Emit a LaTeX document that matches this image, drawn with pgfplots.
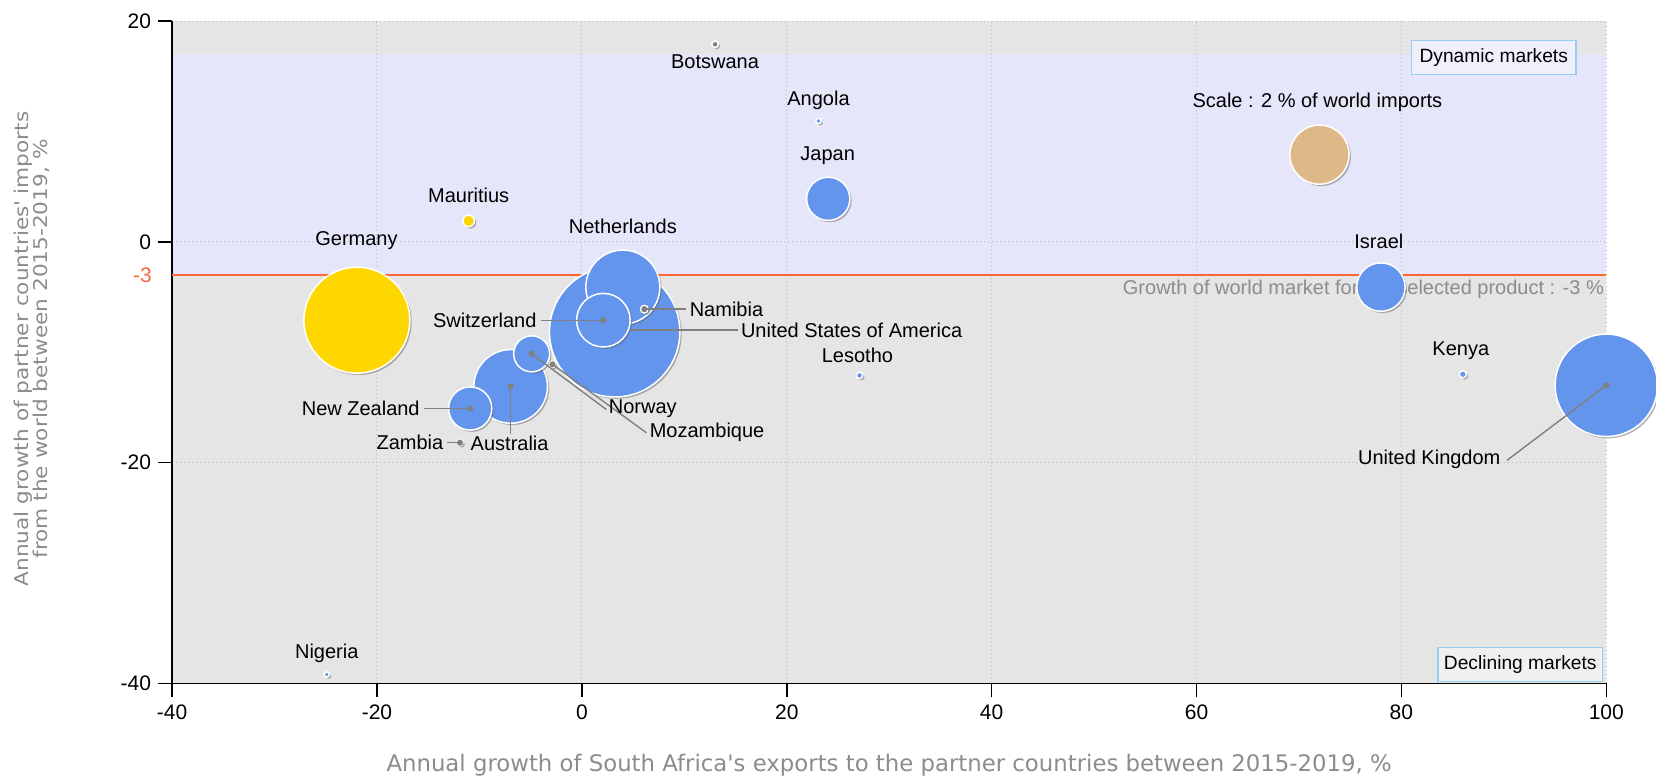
\documentclass[border=0pt]{standalone}
\usepackage{fontspec}
\setmainfont{Liberation Sans}
\newfontfamily\dejavu{DejaVu Sans}
\newfontfamily\dejavuwide[FakeStretch=1.14]{DejaVu Sans}
\usepackage{pgfplots}
\pgfplotsset{compat=1.18}
\usepackage{pgfplotstable}

\definecolor{cblue}{RGB}{100,149,237}
\definecolor{cgold}{RGB}{255,215,0}
\definecolor{ctan}{RGB}{222,184,135}
\definecolor{cdot}{RGB}{128,128,128}
\definecolor{bggray}{RGB}{229,229,229}
\definecolor{lav}{RGB}{230,230,250}
\definecolor{redline}{RGB}{255,102,51}
\definecolor{tickred}{RGB}{255,99,71}
\definecolor{labgray}{RGB}{140,140,140}
\definecolor{boxblue}{RGB}{150,205,245}
\definecolor{shadowc}{RGB}{90,90,90}

% bubble with a small drop shadow
\pgfdeclareplotmark{bub}{%
  \begin{pgfscope}
    \pgfsetfillcolor{shadowc}\pgfsetfillopacity{0.45}
    \pgfpathcircle{\pgfpoint{0.9pt}{-0.9pt}}{\pgfplotmarksize}
    \pgfusepath{fill}
  \end{pgfscope}
  \pgfpathcircle{\pgfpointorigin}{\pgfplotmarksize}
  \pgfusepathqfillstroke
}

% x = export growth, y = import growth, r = bubble radius (pt)
\pgfplotstableread{
name x y r
USA 3.2 -8.15 32.6
UnitedKingdom 100 -13.0 25.6
Netherlands 4.0 -4.1 18.5
Australia -6.95 -13.1 18.4
Switzerland 2.1 -7.1 13.4
Israel 78.0 -4.1 12.1
Japan 24.05 3.9 10.8
NewZealand -10.9 -15.1 10.8
Norway -4.9 -10.15 9.0
Namibia 6.1 -6.1 1.9
Mozambique -2.87 -11.1 1.6
Zambia -11.9 -18.2 1.5
Lesotho 27.1 -12.1 1.6
Kenya 86.0 -12.0 1.8
Angola 23.1 10.95 1.3
Nigeria -24.9 -39.2 1.3
}\bluetab

\pgfplotstableread{
name x y r
Germany -21.96 -7.1 26.5
Mauritius -11.05 1.9 2.9
}\goldtab

\pgfplotstableread{
name x y r
Scale 72.0 7.9 14.8
}\scaletab

\pgfplotstableread{
name x y r
Botswana 13.0 17.9 1.6
}\graytab

\pgfplotsset{
  bubble/.style={scatter, only marks, mark=bub,
    mark options={line width=0.75pt},
    scatter/use mapped color={draw=white, fill=#1},
    visualization depends on={\thisrow{r} \as \rad},
    scatter/@pre marker code/.append style={/tikz/mark size=\rad}},
  lead/.style={cdot, line width=0.7pt, no marks, forget plot},
}
\tikzset{
  lab/.style={font=\fontsize{10}{12}\selectfont, inner sep=1pt, text=black},
  mbox/.style={draw=boxblue, line width=0.7pt, font=\fontsize{9.6}{11}\selectfont,
    inner xsep=4pt, text height=7pt, text depth=2pt, inner ysep=4pt},
}

\begin{document}
\begin{tikzpicture}
\begin{axis}[
  set layers,
  scale only axis, width=717.1pt, height=331.1pt,
  at={(0pt,0pt)}, anchor=south west,
  xmin=-40, xmax=100, ymin=-40, ymax=20,
  axis x line*=bottom, axis y line*=left,
  axis line style={black, line width=0.8pt},
  xtick={-40,-20,0,20,40,60,80,100},
  xticklabels={-40,-20,0,20,40,60,80,100},
  ytick={-40,-20,0,20},
  yticklabels={-40,-20,0,20},
  tick align=outside, major tick length=7pt,
  tick style={black, line width=0.8pt},
  ticklabel style={font=\fontsize{10.5}{12}\selectfont},
  grid=major,
  grid style={gray!55, line width=0.5pt, dash pattern=on 0.6pt off 1.4pt},
  xlabel={Annual growth of South Africa\textquotesingle s exports to the partner countries between 2015-2019, \%},
  ylabel={Annual growth of partner countries\textquotesingle\ imports\\from the world between 2015-2019, \%},
  xlabel style={at={(axis description cs:0.5,-0.1244)}, anchor=center,
    font=\dejavu\fontsize{11.4}{13}\selectfont, text=labgray},
  ylabel style={at={(axis description cs:-0.0976,0.505)}, anchor=center, align=center,
    font=\dejavuwide\fontsize{9.5}{9.6}\selectfont, text=labgray},
  clip=false, clip mode=individual,
]
\begin{pgfonlayer}{axis background}
  \fill[bggray] (axis cs:-40,-40) rectangle (axis cs:100,20);
  \fill[lav] (axis cs:-40,-3) rectangle (axis cs:100,17);
\end{pgfonlayer}

% world market growth line
\addplot[redline, line width=1.1pt, no marks, forget plot] coordinates {(-40,-3) (100,-3)};
\node[anchor=east, xshift=-10pt, inner sep=0pt, text=tickred, font=\fontsize{10.5}{12}\selectfont] at (axis cs:-40,-3) {-3};
\node[anchor=east, inner sep=0pt, text=labgray, font=\fontsize{10}{12}\selectfont] at (axis cs:99.8,-4.3)
  {Growth of world market for the selected product : -3 \%};

% bubbles
\addplot[bubble=cgold] table[x=x, y=y] {\goldtab};
\addplot[bubble=cblue] table[x=x, y=y] {\bluetab};
\addplot[bubble=ctan] table[x=x, y=y] {\scaletab};
\addplot[bubble=cdot] table[x=x, y=y] {\graytab};

% leader lines
\addplot[lead] coordinates {(-4.0,-7.1) (2.1,-7.1)};
\addplot[lead] coordinates {(6.1,-6.1) (10.2,-6.1)};
\addplot[lead] coordinates {(4.75,-8.0) (15.2,-8.0)};
\addplot[lead] coordinates {(-4.9,-10.15) (2.4,-15.2)};
\addplot[lead] coordinates {(-2.87,-11.1) (6.3,-17.3)};
\addplot[lead] coordinates {(-6.95,-13.1) (-6.95,-17.4)};
\addplot[lead] coordinates {(-15.4,-15.1) (-10.9,-15.1)};
\addplot[lead] coordinates {(-13.2,-18.2) (-11.9,-18.2)};
\addplot[lead] coordinates {(90.3,-19.8) (100,-13.0)};

% centre dots of the labelled bubbles
\addplot[only marks, mark=*, mark size=1.3pt, mark options={fill=cdot, draw=cdot}] coordinates {
  (2.1,-7.1) (6.1,-6.1) (-4.9,-10.15) (-2.87,-11.1) (-6.95,-13.1)
  (-10.9,-15.1) (-11.9,-18.2) (100,-13.0)
};

% country labels
\node[lab] at (axis cs:13.0,16.3) {Botswana};
\node[lab] at (axis cs:23.1,12.85) {Angola};
\node[lab] at (axis cs:24.0,7.8) {Japan};
\node[lab] at (axis cs:-11.05,4.2) {Mauritius};
\node[lab] at (axis cs:-22.0,0.1) {Germany};
\node[lab] at (axis cs:4.0,1.4) {Netherlands};
\node[lab] at (axis cs:77.8,0.0) {Israel};
\node[lab] at (axis cs:85.8,-9.9) {Kenya};
\node[lab] at (axis cs:26.9,-10.3) {Lesotho};
\node[lab] at (axis cs:-24.9,-37.3) {Nigeria};
\node[lab] at (axis cs:71.8,12.6) {Scale : 2 \% of world imports};
\node[lab, anchor=east] at (axis cs:-4.2,-7.1) {Switzerland};
\node[lab, anchor=west] at (axis cs:10.3,-6.1) {Namibia};
\node[lab, anchor=west] at (axis cs:15.3,-8.0) {United States of America};
\node[lab, anchor=west] at (axis cs:2.4,-15.1) {Norway};
\node[lab, anchor=west] at (axis cs:6.4,-17.3) {Mozambique};
\node[lab] at (axis cs:-7.05,-18.3) {Australia};
\node[lab, anchor=east] at (axis cs:-15.6,-15.1) {New Zealand};
\node[lab, anchor=east] at (axis cs:-13.3,-18.2) {Zambia};
\node[lab, anchor=east] at (axis cs:89.9,-19.7) {United Kingdom};

% quadrant boxes
\node[mbox, fill=lav!60!white, anchor=north east] at (axis cs:97.1,18.3) {Dynamic markets};
\node[mbox, fill=gray!12!white, inner xsep=3pt, anchor=south east] at (axis cs:99.7,-39.9) {Declining markets};
\end{axis}
\pgfresetboundingbox
\path (-86.05pt,-47.35pt) rectangle (741.95pt,341.65pt);
\end{tikzpicture}
\end{document}
